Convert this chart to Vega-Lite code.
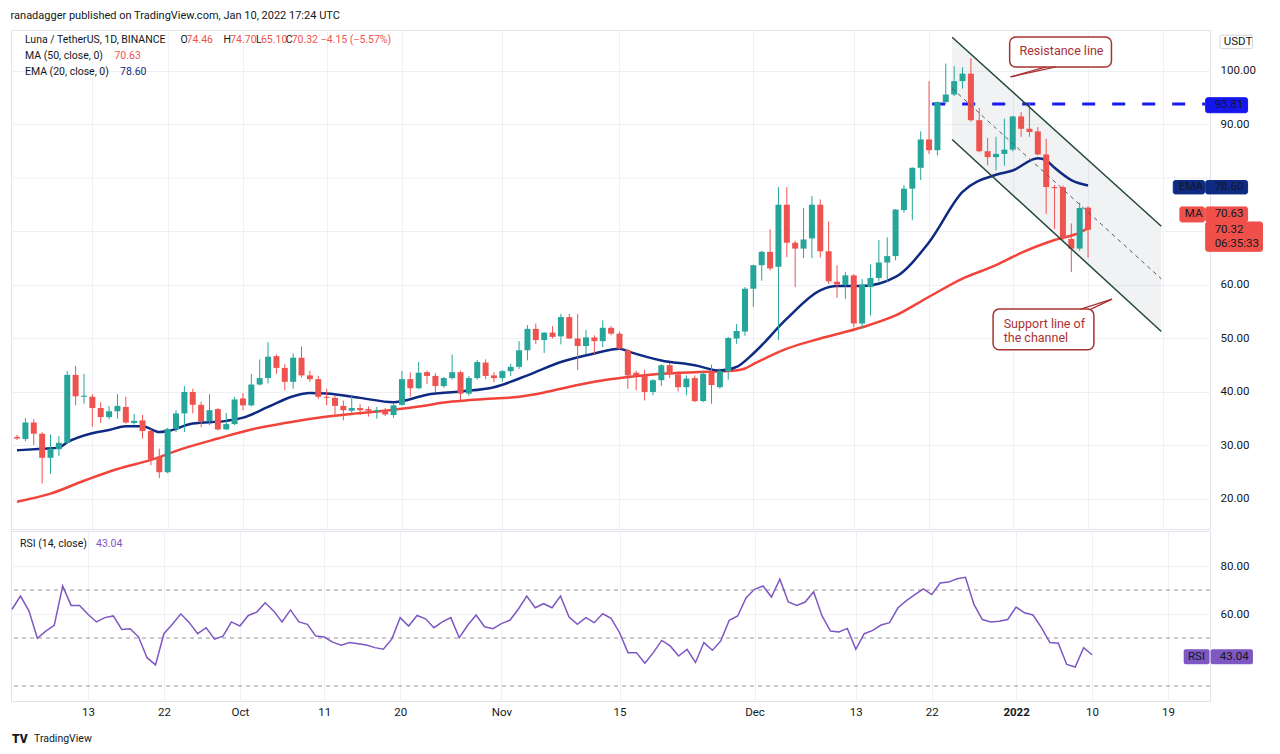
{
"$schema":"https://vega.github.io/schema/vega-lite/v6.json",
"background":"white",
"padding":{"left":8,"top":9,"right":0,"bottom":0},
"spacing":0,
"title":{"text":"ranadagger published on TradingView.com, Jan 10, 2022 17:24 UTC","anchor":"start","fontSize":11,"fontWeight":"normal","font":"Roboto","color":"#131722","offset":9,"dx":2},
"config":{"font":"Roboto","view":{"stroke":"#e0e3eb"},"axis":{"labelFont":"Roboto","labelFontSize":11.5,"labelColor":"#131722","gridColor":"#eef0f5","domain":false,"ticks":false,"title":null,"zindex":0}},
"datasets":{
"candles":[
{"d":"2021-09-04","o":31.6,"h":32.0,"l":31.0,"c":31.3},
{"d":"2021-09-05","o":31.2,"h":35.1,"l":30.8,"c":34.3},
{"d":"2021-09-06","o":34.3,"h":34.9,"l":30.1,"c":32.2},
{"d":"2021-09-07","o":32.2,"h":32.5,"l":22.9,"c":27.7},
{"d":"2021-09-08","o":27.7,"h":32.0,"l":24.7,"c":29.4},
{"d":"2021-09-09","o":29.3,"h":31.8,"l":28.0,"c":30.5},
{"d":"2021-09-10","o":30.5,"h":43.9,"l":30.2,"c":43.2},
{"d":"2021-09-11","o":43.2,"h":44.9,"l":37.5,"c":39.2},
{"d":"2021-09-12","o":39.1,"h":43.4,"l":37.8,"c":39.3},
{"d":"2021-09-13","o":39.1,"h":39.6,"l":33.5,"c":37.0},
{"d":"2021-09-14","o":37.0,"h":38.1,"l":34.2,"c":35.3},
{"d":"2021-09-15","o":35.3,"h":37.4,"l":34.9,"c":36.4},
{"d":"2021-09-16","o":36.4,"h":39.6,"l":35.0,"c":37.4},
{"d":"2021-09-17","o":37.2,"h":39.1,"l":34.1,"c":34.3},
{"d":"2021-09-18","o":34.2,"h":35.9,"l":33.9,"c":34.6},
{"d":"2021-09-19","o":34.7,"h":35.7,"l":31.3,"c":32.7},
{"d":"2021-09-20","o":32.7,"h":33.1,"l":26.3,"c":27.4},
{"d":"2021-09-21","o":27.9,"h":29.4,"l":23.9,"c":25.0},
{"d":"2021-09-22","o":25.0,"h":33.3,"l":24.8,"c":33.1},
{"d":"2021-09-23","o":33.1,"h":36.6,"l":32.5,"c":36.0},
{"d":"2021-09-24","o":36.0,"h":41.1,"l":32.5,"c":40.0},
{"d":"2021-09-25","o":40.0,"h":40.6,"l":36.0,"c":37.6},
{"d":"2021-09-26","o":37.6,"h":38.2,"l":33.4,"c":34.5},
{"d":"2021-09-27","o":34.5,"h":39.6,"l":33.8,"c":36.6},
{"d":"2021-09-28","o":36.8,"h":37.0,"l":32.8,"c":33.0},
{"d":"2021-09-29","o":33.0,"h":36.1,"l":32.9,"c":34.0},
{"d":"2021-09-30","o":34.0,"h":39.1,"l":33.8,"c":38.6},
{"d":"2021-10-01","o":38.8,"h":39.8,"l":36.6,"c":37.5},
{"d":"2021-10-02","o":37.5,"h":43.4,"l":37.3,"c":41.4},
{"d":"2021-10-03","o":41.4,"h":46.1,"l":41.2,"c":42.6},
{"d":"2021-10-04","o":42.6,"h":49.3,"l":41.6,"c":46.6},
{"d":"2021-10-05","o":46.7,"h":47.0,"l":43.4,"c":44.5},
{"d":"2021-10-06","o":44.5,"h":45.2,"l":40.3,"c":41.9},
{"d":"2021-10-07","o":41.9,"h":47.2,"l":40.6,"c":46.4},
{"d":"2021-10-08","o":46.4,"h":48.5,"l":42.7,"c":43.1},
{"d":"2021-10-09","o":43.1,"h":44.0,"l":41.9,"c":42.4},
{"d":"2021-10-10","o":42.4,"h":43.0,"l":38.7,"c":39.1},
{"d":"2021-10-11","o":39.1,"h":40.6,"l":37.5,"c":38.9},
{"d":"2021-10-12","o":38.9,"h":39.4,"l":35.3,"c":37.4},
{"d":"2021-10-13","o":37.4,"h":38.4,"l":34.7,"c":36.6},
{"d":"2021-10-14","o":36.5,"h":39.5,"l":36.0,"c":37.0},
{"d":"2021-10-15","o":37.0,"h":37.7,"l":35.7,"c":36.6},
{"d":"2021-10-16","o":36.8,"h":37.3,"l":35.4,"c":36.5},
{"d":"2021-10-17","o":36.4,"h":37.2,"l":35.0,"c":36.6},
{"d":"2021-10-18","o":36.4,"h":37.0,"l":35.5,"c":35.8},
{"d":"2021-10-19","o":35.7,"h":37.9,"l":35.2,"c":37.5},
{"d":"2021-10-20","o":37.6,"h":43.9,"l":37.4,"c":42.4},
{"d":"2021-10-21","o":42.4,"h":43.7,"l":39.1,"c":40.7},
{"d":"2021-10-22","o":40.7,"h":45.6,"l":40.5,"c":43.6},
{"d":"2021-10-23","o":43.7,"h":44.0,"l":41.5,"c":43.0},
{"d":"2021-10-24","o":43.0,"h":43.5,"l":40.0,"c":41.1},
{"d":"2021-10-25","o":41.1,"h":42.8,"l":40.8,"c":42.6},
{"d":"2021-10-26","o":42.6,"h":47.0,"l":42.3,"c":43.7},
{"d":"2021-10-27","o":43.7,"h":44.0,"l":38.3,"c":39.7},
{"d":"2021-10-28","o":39.7,"h":43.0,"l":39.3,"c":42.6},
{"d":"2021-10-29","o":42.6,"h":46.0,"l":42.3,"c":45.6},
{"d":"2021-10-30","o":45.5,"h":46.1,"l":42.4,"c":43.0},
{"d":"2021-10-31","o":43.1,"h":43.7,"l":41.8,"c":42.6},
{"d":"2021-11-01","o":42.6,"h":44.1,"l":41.9,"c":43.9},
{"d":"2021-11-02","o":43.9,"h":45.3,"l":43.0,"c":44.7},
{"d":"2021-11-03","o":44.7,"h":49.5,"l":44.3,"c":47.8},
{"d":"2021-11-04","o":47.8,"h":52.5,"l":45.9,"c":51.8},
{"d":"2021-11-05","o":51.8,"h":52.8,"l":49.0,"c":49.7},
{"d":"2021-11-06","o":49.7,"h":51.2,"l":47.3,"c":51.1},
{"d":"2021-11-07","o":51.1,"h":52.3,"l":50.0,"c":50.3},
{"d":"2021-11-08","o":50.4,"h":54.6,"l":48.9,"c":54.0},
{"d":"2021-11-09","o":54.0,"h":54.6,"l":49.9,"c":50.0},
{"d":"2021-11-10","o":50.0,"h":54.6,"l":44.1,"c":48.6},
{"d":"2021-11-11","o":48.6,"h":51.6,"l":47.1,"c":50.2},
{"d":"2021-11-12","o":50.2,"h":50.6,"l":47.1,"c":49.5},
{"d":"2021-11-13","o":49.5,"h":53.4,"l":48.4,"c":52.0},
{"d":"2021-11-14","o":52.0,"h":52.3,"l":50.6,"c":50.9},
{"d":"2021-11-15","o":50.9,"h":51.3,"l":47.9,"c":48.1},
{"d":"2021-11-16","o":47.8,"h":48.1,"l":40.6,"c":43.1},
{"d":"2021-11-17","o":43.6,"h":44.0,"l":40.3,"c":43.1},
{"d":"2021-11-18","o":43.1,"h":44.2,"l":38.4,"c":40.0},
{"d":"2021-11-19","o":40.0,"h":42.4,"l":39.4,"c":42.2},
{"d":"2021-11-20","o":42.2,"h":45.2,"l":41.1,"c":45.0},
{"d":"2021-11-21","o":45.0,"h":45.4,"l":42.6,"c":43.3},
{"d":"2021-11-22","o":43.3,"h":43.9,"l":40.1,"c":40.9},
{"d":"2021-11-23","o":40.9,"h":43.1,"l":39.4,"c":42.5},
{"d":"2021-11-24","o":42.6,"h":43.1,"l":38.1,"c":38.3},
{"d":"2021-11-25","o":38.3,"h":44.0,"l":38.1,"c":43.4},
{"d":"2021-11-26","o":43.9,"h":45.1,"l":37.8,"c":41.3},
{"d":"2021-11-27","o":40.9,"h":44.4,"l":40.6,"c":43.9},
{"d":"2021-11-28","o":43.9,"h":50.3,"l":42.3,"c":50.1},
{"d":"2021-11-29","o":50.0,"h":52.7,"l":49.0,"c":51.4},
{"d":"2021-11-30","o":51.3,"h":59.6,"l":50.5,"c":59.3},
{"d":"2021-12-01","o":59.3,"h":63.8,"l":55.9,"c":63.7},
{"d":"2021-12-02","o":63.7,"h":66.4,"l":60.8,"c":66.2},
{"d":"2021-12-03","o":66.2,"h":70.4,"l":62.7,"c":63.1},
{"d":"2021-12-04","o":63.4,"h":78.3,"l":49.7,"c":75.0},
{"d":"2021-12-05","o":75.0,"h":78.3,"l":65.2,"c":67.9},
{"d":"2021-12-06","o":67.9,"h":68.3,"l":59.6,"c":66.8},
{"d":"2021-12-07","o":66.8,"h":74.4,"l":65.0,"c":68.5},
{"d":"2021-12-08","o":68.7,"h":76.6,"l":65.0,"c":75.0},
{"d":"2021-12-09","o":75.0,"h":76.0,"l":65.1,"c":66.3},
{"d":"2021-12-10","o":66.3,"h":71.9,"l":60.2,"c":60.7},
{"d":"2021-12-11","o":60.6,"h":63.7,"l":57.6,"c":60.1},
{"d":"2021-12-12","o":60.0,"h":62.4,"l":57.4,"c":61.8},
{"d":"2021-12-13","o":61.8,"h":62.0,"l":52.1,"c":52.8},
{"d":"2021-12-14","o":52.8,"h":61.1,"l":51.8,"c":60.1},
{"d":"2021-12-15","o":59.6,"h":63.8,"l":54.3,"c":61.3},
{"d":"2021-12-16","o":61.3,"h":68.4,"l":60.7,"c":64.2},
{"d":"2021-12-17","o":64.2,"h":68.9,"l":60.6,"c":65.4},
{"d":"2021-12-18","o":65.4,"h":74.2,"l":64.6,"c":74.1},
{"d":"2021-12-19","o":74.0,"h":78.7,"l":73.5,"c":78.0},
{"d":"2021-12-20","o":78.0,"h":82.0,"l":72.1,"c":81.9},
{"d":"2021-12-21","o":81.9,"h":88.7,"l":79.6,"c":87.2},
{"d":"2021-12-22","o":87.2,"h":98.1,"l":84.5,"c":85.2},
{"d":"2021-12-23","o":85.2,"h":94.3,"l":84.2,"c":94.2},
{"d":"2021-12-24","o":94.2,"h":101.4,"l":93.9,"c":95.6},
{"d":"2021-12-25","o":95.6,"h":100.9,"l":95.3,"c":98.1},
{"d":"2021-12-26","o":98.1,"h":100.7,"l":96.7,"c":99.5},
{"d":"2021-12-27","o":99.5,"h":102.4,"l":90.5,"c":90.8},
{"d":"2021-12-28","o":90.8,"h":93.1,"l":84.8,"c":85.0},
{"d":"2021-12-29","o":85.0,"h":87.5,"l":82.4,"c":83.9},
{"d":"2021-12-30","o":83.9,"h":87.7,"l":81.4,"c":84.5},
{"d":"2021-12-31","o":84.5,"h":91.1,"l":82.3,"c":85.3},
{"d":"2022-01-01","o":85.3,"h":91.6,"l":85.0,"c":91.5},
{"d":"2022-01-02","o":91.5,"h":92.3,"l":87.7,"c":89.2},
{"d":"2022-01-03","o":89.2,"h":94.2,"l":87.7,"c":88.6},
{"d":"2022-01-04","o":88.7,"h":89.5,"l":84.2,"c":84.4},
{"d":"2022-01-05","o":84.4,"h":87.3,"l":73.3,"c":78.3},
{"d":"2022-01-06","o":78.3,"h":78.7,"l":70.5,"c":78.1},
{"d":"2022-01-07","o":78.3,"h":78.6,"l":68.3,"c":68.7},
{"d":"2022-01-08","o":68.6,"h":71.5,"l":62.4,"c":66.8},
{"d":"2022-01-09","o":66.8,"h":75.4,"l":66.4,"c":74.4},
{"d":"2022-01-10","o":74.46,"h":74.70,"l":65.10,"c":70.32}
],
"ma":[
{"d":"2021-09-04","v":19.5},{"d":"2021-09-08","v":21.0},{"d":"2021-09-12","v":23.4},{"d":"2021-09-16","v":25.6},{"d":"2021-09-20","v":27.3},{"d":"2021-09-24","v":29.5},{"d":"2021-09-28","v":31.3},{"d":"2021-10-02","v":33.0},{"d":"2021-10-06","v":34.2},{"d":"2021-10-10","v":35.2},{"d":"2021-10-14","v":35.9},{"d":"2021-10-18","v":36.5},{"d":"2021-10-22","v":37.3},{"d":"2021-10-26","v":38.2},{"d":"2021-10-30","v":38.7},{"d":"2021-11-03","v":39.1},{"d":"2021-11-06","v":39.9},{"d":"2021-11-08","v":40.6},{"d":"2021-11-12","v":41.9},{"d":"2021-11-16","v":42.8},{"d":"2021-11-20","v":43.4},{"d":"2021-11-24","v":43.7},{"d":"2021-11-28","v":43.9},{"d":"2021-11-30","v":44.4},{"d":"2021-12-01","v":45.2},{"d":"2021-12-05","v":48.1},{"d":"2021-12-09","v":50.0},{"d":"2021-12-14","v":52.1},{"d":"2021-12-18","v":54.3},{"d":"2021-12-22","v":57.8},{"d":"2021-12-26","v":61.2},{"d":"2021-12-30","v":63.7},{"d":"2022-01-02","v":66.0},{"d":"2022-01-06","v":68.4},{"d":"2022-01-09","v":69.8},{"d":"2022-01-10","v":70.63}
],
"ema":[
{"d":"2021-09-04","v":29.1},{"d":"2021-09-07","v":29.4},{"d":"2021-09-09","v":29.6},{"d":"2021-09-10","v":30.6},{"d":"2021-09-13","v":32.3},{"d":"2021-09-15","v":32.9},{"d":"2021-09-17","v":33.6},{"d":"2021-09-19","v":33.6},{"d":"2021-09-21","v":32.5},{"d":"2021-09-22","v":32.7},{"d":"2021-09-25","v":34.1},{"d":"2021-09-29","v":34.6},{"d":"2021-10-01","v":35.2},{"d":"2021-10-04","v":37.2},{"d":"2021-10-07","v":39.2},{"d":"2021-10-09","v":39.8},{"d":"2021-10-11","v":39.7},{"d":"2021-10-15","v":38.9},{"d":"2021-10-19","v":38.1},{"d":"2021-10-20","v":38.3},{"d":"2021-10-23","v":39.5},{"d":"2021-10-27","v":40.1},{"d":"2021-10-31","v":40.9},{"d":"2021-11-04","v":43.1},{"d":"2021-11-08","v":45.6},{"d":"2021-11-12","v":47.2},{"d":"2021-11-15","v":48.1},{"d":"2021-11-16","v":47.6},{"d":"2021-11-20","v":45.9},{"d":"2021-11-24","v":45.0},{"d":"2021-11-27","v":44.0},{"d":"2021-11-29","v":44.7},{"d":"2021-12-01","v":47.2},{"d":"2021-12-05","v":53.7},{"d":"2021-12-09","v":59.0},{"d":"2021-12-11","v":59.8},{"d":"2021-12-14","v":59.8},{"d":"2021-12-18","v":61.5},{"d":"2021-12-22","v":68.0},{"d":"2021-12-26","v":77.4},{"d":"2021-12-30","v":80.6},{"d":"2022-01-01","v":81.4},{"d":"2022-01-04","v":83.7},{"d":"2022-01-05","v":83.3},{"d":"2022-01-06","v":81.9},{"d":"2022-01-08","v":79.6},{"d":"2022-01-10","v":78.6}
],
"rsi":[
{"d":"2021-09-04","v":62.0},{"d":"2021-09-05","v":67.5},{"d":"2021-09-06","v":61.3},{"d":"2021-09-07","v":49.9},{"d":"2021-09-08","v":52.9},{"d":"2021-09-09","v":55.3},{"d":"2021-09-10","v":71.7},{"d":"2021-09-11","v":63.6},{"d":"2021-09-12","v":63.6},{"d":"2021-09-13","v":59.9},{"d":"2021-09-14","v":56.7},{"d":"2021-09-15","v":58.5},{"d":"2021-09-16","v":59.2},{"d":"2021-09-17","v":53.6},{"d":"2021-09-18","v":53.9},{"d":"2021-09-19","v":50.4},{"d":"2021-09-20","v":41.8},{"d":"2021-09-21","v":38.8},{"d":"2021-09-22","v":51.8},{"d":"2021-09-23","v":55.7},{"d":"2021-09-24","v":60.1},{"d":"2021-09-25","v":56.4},{"d":"2021-09-26","v":51.8},{"d":"2021-09-27","v":54.3},{"d":"2021-09-28","v":49.5},{"d":"2021-09-29","v":50.8},{"d":"2021-09-30","v":56.7},
{"d":"2021-10-01","v":55.0},{"d":"2021-10-02","v":59.4},{"d":"2021-10-03","v":60.8},{"d":"2021-10-04","v":64.7},{"d":"2021-10-05","v":61.3},{"d":"2021-10-06","v":56.7},{"d":"2021-10-07","v":61.7},{"d":"2021-10-08","v":56.7},{"d":"2021-10-09","v":55.7},{"d":"2021-10-10","v":50.8},{"d":"2021-10-11","v":50.4},{"d":"2021-10-12","v":48.3},{"d":"2021-10-13","v":47.0},{"d":"2021-10-14","v":48.1},{"d":"2021-10-15","v":47.6},{"d":"2021-10-16","v":47.1},{"d":"2021-10-17","v":46.0},{"d":"2021-10-18","v":45.3},{"d":"2021-10-19","v":49.5},{"d":"2021-10-20","v":58.5},{"d":"2021-10-21","v":55.0},{"d":"2021-10-22","v":59.4},{"d":"2021-10-23","v":58.0},{"d":"2021-10-24","v":54.3},{"d":"2021-10-25","v":56.7},{"d":"2021-10-26","v":58.5},{"d":"2021-10-27","v":50.1},{"d":"2021-10-28","v":55.3},{"d":"2021-10-29","v":59.6},{"d":"2021-10-30","v":54.7},{"d":"2021-10-31","v":53.9},
{"d":"2021-11-01","v":56.0},{"d":"2021-11-02","v":57.4},{"d":"2021-11-03","v":62.0},{"d":"2021-11-04","v":67.5},{"d":"2021-11-05","v":62.6},{"d":"2021-11-06","v":64.3},{"d":"2021-11-07","v":62.6},{"d":"2021-11-08","v":67.5},{"d":"2021-11-09","v":58.8},{"d":"2021-11-10","v":55.7},{"d":"2021-11-11","v":58.5},{"d":"2021-11-12","v":56.4},{"d":"2021-11-13","v":60.1},{"d":"2021-11-14","v":58.2},{"d":"2021-11-15","v":52.2},{"d":"2021-11-16","v":43.9},{"d":"2021-11-17","v":43.9},{"d":"2021-11-18","v":39.5},{"d":"2021-11-19","v":43.9},{"d":"2021-11-20","v":49.0},{"d":"2021-11-21","v":46.7},{"d":"2021-11-22","v":42.5},{"d":"2021-11-23","v":45.3},{"d":"2021-11-24","v":39.8},{"d":"2021-11-25","v":48.1},{"d":"2021-11-26","v":44.9},{"d":"2021-11-27","v":48.8},{"d":"2021-11-28","v":57.4},{"d":"2021-11-29","v":59.2},{"d":"2021-11-30","v":66.8},
{"d":"2021-12-01","v":70.3},{"d":"2021-12-02","v":71.7},{"d":"2021-12-03","v":67.1},{"d":"2021-12-04","v":74.5},{"d":"2021-12-05","v":65.0},{"d":"2021-12-06","v":63.6},{"d":"2021-12-07","v":65.0},{"d":"2021-12-08","v":69.3},{"d":"2021-12-09","v":59.2},{"d":"2021-12-10","v":52.9},{"d":"2021-12-11","v":52.5},{"d":"2021-12-12","v":54.0},{"d":"2021-12-13","v":45.3},{"d":"2021-12-14","v":51.8},{"d":"2021-12-15","v":53.2},{"d":"2021-12-16","v":55.4},{"d":"2021-12-17","v":56.4},{"d":"2021-12-18","v":62.6},{"d":"2021-12-19","v":65.6},{"d":"2021-12-20","v":68.1},{"d":"2021-12-21","v":70.5},{"d":"2021-12-22","v":68.1},{"d":"2021-12-23","v":72.9},{"d":"2021-12-24","v":73.3},{"d":"2021-12-25","v":74.7},{"d":"2021-12-26","v":75.3},{"d":"2021-12-27","v":64.0},{"d":"2021-12-28","v":57.7},{"d":"2021-12-29","v":56.7},{"d":"2021-12-30","v":57.0},{"d":"2021-12-31","v":57.7},
{"d":"2022-01-01","v":62.9},{"d":"2022-01-02","v":60.5},{"d":"2022-01-03","v":59.6},{"d":"2022-01-04","v":54.3},{"d":"2022-01-05","v":48.1},{"d":"2022-01-06","v":47.8},{"d":"2022-01-07","v":39.0},{"d":"2022-01-08","v":37.9},{"d":"2022-01-09","v":46.0},{"d":"2022-01-10","v":43.04}
],
"channel":[
{"d":"2021-12-24T18:14:00Z","top":106.3,"bot":87.2,"mid":96.75},
{"d":"2022-01-18T18:14:00Z","top":70.97,"bot":51.3,"mid":61.14}
],
"level":[
{"d":"2021-12-22T09:00:00Z","v":93.81},
{"d":"2022-01-23T23:30:00Z","v":93.81}
],
"boxes":[
{"x1":"2021-12-31T15:10:00Z","x2":"2022-01-12T19:10:00Z","y1":100.75,"y2":106.37},
{"x1":"2021-12-29T15:40:00Z","x2":"2022-01-10T16:50:00Z","y1":47.89,"y2":55.49}
],
"tails":[
{"xa":"2021-12-31T18:00:00Z","ya":98.9,"xb":"2022-01-04T23:30:00Z","yb":100.75},
{"xa":"2021-12-31T18:00:00Z","ya":98.9,"xb":"2022-01-06T04:00:00Z","yb":100.75},
{"xa":"2022-01-12T21:00:00Z","ya":57.36,"xb":"2022-01-09T03:10:00Z","yb":55.49},
{"xa":"2022-01-12T21:00:00Z","ya":57.36,"xb":"2022-01-10T08:25:00Z","yb":55.49}
],
"notes":[
{"d":"2022-01-01T19:30:00Z","p":103.7,"t":"Resistance line"},
{"d":"2021-12-30T22:00:00Z","p":52.8,"t":"Support line of"},
{"d":"2021-12-30T22:00:00Z","p":50.0,"t":"the channel"}
],
"legendTop":[
{"d":"2021-09-04T22:35:00Z","p":105.8,"t":"Luna / TetherUS, 1D, BINANCE","k":"dark"},
{"d":"2021-09-23T13:10:00Z","p":105.8,"t":"O","k":"dark"},
{"d":"2021-09-24T06:15:00Z","p":105.8,"t":"74.46","k":"red"},
{"d":"2021-09-28T16:20:00Z","p":105.8,"t":"H","k":"dark"},
{"d":"2021-09-29T11:20:00Z","p":105.8,"t":"74.70","k":"red"},
{"d":"2021-10-02T13:25:00Z","p":105.8,"t":"L","k":"dark"},
{"d":"2021-10-03T03:35:00Z","p":105.8,"t":"65.10","k":"red"},
{"d":"2021-10-06T02:40:00Z","p":105.8,"t":"C","k":"dark"},
{"d":"2021-10-06T19:40:00Z","p":105.8,"t":"70.32","k":"red"},
{"d":"2021-10-10T07:00:00Z","p":105.8,"t":"−4.15 (−5.57%)","k":"red"},
{"d":"2021-09-04T22:35:00Z","p":102.8,"t":"MA (50, close, 0)","k":"dark"},
{"d":"2021-09-15T15:25:00Z","p":102.8,"t":"70.63","k":"red"},
{"d":"2021-09-04T22:35:00Z","p":99.8,"t":"EMA (20, close, 0)","k":"dark"},
{"d":"2021-09-16T07:40:00Z","p":99.8,"t":"78.60","k":"navy"}
],
"badgesTop":[
{"x1":"2022-01-25T18:15:00Z","x2":"2022-01-29T16:05:00Z","lo":104.18,"hi":106.69,"k":"plain"},
{"x1":"2022-01-24T01:25:00Z","x2":"2022-01-29T01:40:00Z","lo":92.2,"hi":95.0,"k":"blue"},
{"x1":"2022-01-20T04:30:00Z","x2":"2022-01-23T22:20:00Z","lo":77.02,"hi":79.53,"k":"navy"},
{"x1":"2022-01-24T01:25:00Z","x2":"2022-01-29T01:40:00Z","lo":77.02,"hi":79.53,"k":"navy"},
{"x1":"2022-01-20T23:30:00Z","x2":"2022-01-23T22:20:00Z","lo":71.78,"hi":74.59,"k":"red"},
{"x1":"2022-01-24T01:25:00Z","x2":"2022-01-29T01:40:00Z","lo":71.78,"hi":74.59,"k":"red"},
{"x1":"2022-01-24T01:25:00Z","x2":"2022-01-30T20:25:00Z","lo":66.29,"hi":71.78,"k":"red"}
],
"badgeTextTop":[
{"d":"2022-01-26T05:30:00Z","p":105.45,"t":"USDT","k":"dark"},
{"d":"2022-01-25T03:10:00Z","p":93.62,"t":"93.81","k":"light"},
{"d":"2022-01-20T20:40:00Z","p":78.28,"t":"EMA","k":"light"},
{"d":"2022-01-25T03:10:00Z","p":78.28,"t":"78.60","k":"light"},
{"d":"2022-01-21T13:40:00Z","p":73.18,"t":"MA","k":"light"},
{"d":"2022-01-25T03:10:00Z","p":73.18,"t":"70.63","k":"light"},
{"d":"2022-01-25T03:10:00Z","p":70.2,"t":"70.32","k":"light"},
{"d":"2022-01-25T03:10:00Z","p":67.7,"t":"06:35:33","k":"light"}
],
"legendRsi":[
{"d":"2021-09-04T22:35:00Z","p":89.17,"t":"RSI (14, close)","k":"dark"},
{"d":"2021-09-13T22:45:00Z","p":89.17,"t":"43.04","k":"purple"},
{"d":"2021-09-06T14:25:00Z","p":7.9,"t":"TradingView","k":"dark"}
],
"badgesRsi":[
{"x1":"2022-01-20T20:40:00Z","x2":"2022-01-23T22:20:00Z","lo":39.04,"hi":45.29,"k":"purple"},
{"x1":"2022-01-24T01:25:00Z","x2":"2022-01-29T01:40:00Z","lo":39.04,"hi":45.29,"k":"purple"}
],
"badgeTextRsi":[
{"d":"2022-01-21T08:50:00Z","p":42.17,"t":"RSI","k":"light"},
{"d":"2022-01-25T03:10:00Z","p":42.17,"t":"43.04","k":"light"}
]
},
"vconcat":[
{
"width":1199,"height":499,
"layer":[
{"data":{"name":"channel"},"mark":{"type":"area","color":"#787b86","opacity":0.1},
 "encoding":{
  "x":{"field":"d","type":"temporal","scale":{"type":"utc","domain":[{"year":2021,"month":9,"date":3,"hours":21,"utc":true},{"year":2022,"month":1,"date":23,"hours":23,"minutes":30,"utc":true}]},
       "axis":{"values":[{"year":2021,"month":9,"date":13,"utc":true},{"year":2021,"month":9,"date":22,"utc":true},{"year":2021,"month":10,"date":1,"utc":true},{"year":2021,"month":10,"date":11,"utc":true},{"year":2021,"month":10,"date":20,"utc":true},{"year":2021,"month":11,"date":1,"utc":true},{"year":2021,"month":11,"date":15,"utc":true},{"year":2021,"month":12,"date":1,"utc":true},{"year":2021,"month":12,"date":13,"utc":true},{"year":2021,"month":12,"date":22,"utc":true},{"year":2022,"month":1,"date":1,"utc":true},{"year":2022,"month":1,"date":10,"utc":true},{"year":2022,"month":1,"date":19,"utc":true}],"labels":false,"grid":true,"labelPadding":0,"zindex":0}},
  "y":{"field":"top","type":"quantitative","scale":{"domain":[14.39,107.66],"nice":false,"zero":false},"axis":{"orient":"right","values":[20,30,40,50,60,90,100],"format":".2f","labelPadding":10,"grid":true,"zindex":0,"gridColor":"#eef0f5"}},
  "y2":{"field":"bot"}}},
{"data":{"values":[{"v":70},{"v":80}]},"mark":{"type":"rule","color":"#eef0f5","strokeWidth":1},"encoding":{"y":{"field":"v","type":"quantitative"}}},
{"mark":{"type":"rule","color":"#ef5350","strokeDash":[1,3],"strokeWidth":1,"opacity":0.8},"encoding":{"y":{"datum":70.32,"type":"quantitative"}}},
{"data":{"name":"level"},"mark":{"type":"line","color":"#1a1aee","strokeWidth":3,"strokeDash":[13,17]},"encoding":{"x":{"field":"d","type":"temporal"},"y":{"field":"v","type":"quantitative"}}},
{"data":{"name":"ma"},"mark":{"type":"line","color":"#f2433a","strokeWidth":2.5,"interpolate":"monotone"},"encoding":{"x":{"field":"d","type":"temporal"},"y":{"field":"v","type":"quantitative"}}},
{"data":{"name":"ema"},"mark":{"type":"line","color":"#0f2a82","strokeWidth":2.5,"interpolate":"monotone"},"encoding":{"x":{"field":"d","type":"temporal"},"y":{"field":"v","type":"quantitative"}}},
{"data":{"name":"candles"},"mark":{"type":"rule","strokeWidth":1},"encoding":{"x":{"field":"d","type":"temporal"},"y":{"field":"l","type":"quantitative"},"y2":{"field":"h"},"color":{"condition":{"test":"datum.c >= datum.o","value":"#26a69a"},"value":"#ef5350"}}},
{"data":{"name":"candles"},"mark":{"type":"bar","width":6},"encoding":{"x":{"field":"d","type":"temporal"},"y":{"field":"o","type":"quantitative"},"y2":{"field":"c"},"color":{"condition":{"test":"datum.c >= datum.o","value":"#26a69a"},"value":"#ef5350"}}},
{"data":{"name":"channel"},"mark":{"type":"line","color":"#24473a","strokeWidth":1.5},"encoding":{"x":{"field":"d","type":"temporal"},"y":{"field":"top","type":"quantitative"}}},
{"data":{"name":"channel"},"mark":{"type":"line","color":"#24473a","strokeWidth":1.5},"encoding":{"x":{"field":"d","type":"temporal"},"y":{"field":"bot","type":"quantitative"}}},
{"data":{"name":"channel"},"mark":{"type":"line","color":"#555a66","strokeWidth":1,"strokeDash":[4,4]},"encoding":{"x":{"field":"d","type":"temporal"},"y":{"field":"mid","type":"quantitative"}}},
{"data":{"name":"boxes"},"mark":{"type":"rect","fill":"white","stroke":"#a83232","strokeWidth":1.5,"cornerRadius":6},"encoding":{"x":{"field":"x1","type":"temporal"},"x2":{"field":"x2"},"y":{"field":"y1","type":"quantitative"},"y2":{"field":"y2"}}},
{"data":{"name":"tails"},"mark":{"type":"rule","color":"#a83232","strokeWidth":1.3},"encoding":{"x":{"field":"xa","type":"temporal"},"x2":{"field":"xb"},"y":{"field":"ya","type":"quantitative"},"y2":{"field":"yb"}}},
{"data":{"name":"notes"},"mark":{"type":"text","align":"left","baseline":"middle","fontSize":12.5,"color":"#a83232","font":"Roboto"},"encoding":{"x":{"field":"d","type":"temporal"},"y":{"field":"p","type":"quantitative"},"text":{"field":"t"}}},
{"data":{"name":"legendTop"},"mark":{"type":"text","align":"left","baseline":"middle","fontSize":10.5,"font":"Roboto"},"encoding":{"x":{"field":"d","type":"temporal"},"y":{"field":"p","type":"quantitative"},"text":{"field":"t"},"color":{"field":"k","type":"nominal","legend":null,"scale":{"domain":["dark","red","navy","purple"],"range":["#131722","#ef5350","#0f2a82","#7e57c2"]}}}},
{"data":{"name":"badgesTop"},"mark":{"type":"rect","strokeWidth":1,"cornerRadius":2},"encoding":{"x":{"field":"x1","type":"temporal"},"x2":{"field":"x2"},"y":{"field":"lo","type":"quantitative"},"y2":{"field":"hi"},"fill":{"field":"k","type":"nominal","legend":null,"scale":{"domain":["plain","blue","navy","red","purple"],"range":["#ffffff","#1515ee","#0f2a82","#f0504a","#7e57c2"]}},"stroke":{"field":"k","type":"nominal","legend":null,"scale":{"domain":["plain","blue","navy","red","purple"],"range":["#d1d4dc","#1515ee","#0f2a82","#f0504a","#7e57c2"]}}}},
{"data":{"name":"badgeTextTop"},"mark":{"type":"text","align":"left","baseline":"middle","fontSize":11.5,"font":"Roboto"},"encoding":{"x":{"field":"d","type":"temporal"},"y":{"field":"p","type":"quantitative"},"text":{"field":"t"},"color":{"field":"k","type":"nominal","legend":null,"scale":{"domain":["light","dark"],"range":["#ffffff","#131722"]}}}}
]
},
{
"width":1199,"height":170,
"layer":[
{"mark":{"type":"rect","color":"#7e57c2","opacity":0.08},"encoding":{"y":{"datum":70,"type":"quantitative","scale":{"domain":[23.75,94.6],"nice":false,"zero":false},"axis":{"orient":"right","values":[60,80],"format":".2f","labelPadding":10,"grid":true,"zindex":0}},"y2":{"datum":30}}},
{"data":{"values":[{"v":70},{"v":50},{"v":30}]},"mark":{"type":"rule","color":"#787b86","strokeDash":[4,4],"strokeWidth":1,"opacity":0.8},"encoding":{"y":{"field":"v","type":"quantitative"}}},
{"data":{"name":"rsi"},"mark":{"type":"line","color":"#7e57c2","strokeWidth":1.5},
 "encoding":{
  "x":{"field":"d","type":"temporal","scale":{"type":"utc","domain":[{"year":2021,"month":9,"date":3,"hours":21,"utc":true},{"year":2022,"month":1,"date":23,"hours":23,"minutes":30,"utc":true}]},
       "axis":{"values":[{"year":2021,"month":9,"date":13,"utc":true},{"year":2021,"month":9,"date":22,"utc":true},{"year":2021,"month":10,"date":1,"utc":true},{"year":2021,"month":10,"date":11,"utc":true},{"year":2021,"month":10,"date":20,"utc":true},{"year":2021,"month":11,"date":1,"utc":true},{"year":2021,"month":11,"date":15,"utc":true},{"year":2021,"month":12,"date":1,"utc":true},{"year":2021,"month":12,"date":13,"utc":true},{"year":2021,"month":12,"date":22,"utc":true},{"year":2022,"month":1,"date":1,"utc":true},{"year":2022,"month":1,"date":10,"utc":true},{"year":2022,"month":1,"date":19,"utc":true}],"grid":true,"zindex":0,"labelPadding":5,"labelExpr":"utcdate(datum.value) == 1 ? (utcmonth(datum.value) == 0 ? utcFormat(datum.value, '%Y') : utcFormat(datum.value, '%b')) : utcFormat(datum.value, '%-d')","labelFontWeight":{"condition":{"test":"utcdate(datum.value) == 1 && utcmonth(datum.value) == 0","value":"bold"},"value":"normal"}}},
  "y":{"field":"v","type":"quantitative"}}},
{"data":{"name":"legendRsi"},"mark":{"type":"text","align":"left","baseline":"middle","fontSize":10.5,"font":"Roboto"},"encoding":{"x":{"field":"d","type":"temporal"},"y":{"field":"p","type":"quantitative"},"text":{"field":"t"},"color":{"field":"k","type":"nominal","legend":null,"scale":{"domain":["dark","red","navy","purple"],"range":["#131722","#ef5350","#0f2a82","#7e57c2"]}}}},
{"data":{"values":[{"d":"2021-09-04T00:00:00Z","p":7.9,"t":"TV"}]},"mark":{"type":"text","align":"left","baseline":"middle","fontSize":12,"fontWeight":900,"font":"Roboto","color":"#131722"},"encoding":{"x":{"field":"d","type":"temporal"},"y":{"field":"p","type":"quantitative"},"text":{"field":"t"}}},
{"data":{"name":"badgesRsi"},"mark":{"type":"rect","cornerRadius":2},"encoding":{"x":{"field":"x1","type":"temporal"},"x2":{"field":"x2"},"y":{"field":"lo","type":"quantitative"},"y2":{"field":"hi"},"fill":{"field":"k","type":"nominal","legend":null,"scale":{"domain":["plain","blue","navy","red","purple"],"range":["#ffffff","#1515ee","#0f2a82","#f0504a","#7e57c2"]}}}},
{"data":{"name":"badgeTextRsi"},"mark":{"type":"text","align":"left","baseline":"middle","fontSize":11.5,"font":"Roboto"},"encoding":{"x":{"field":"d","type":"temporal"},"y":{"field":"p","type":"quantitative"},"text":{"field":"t"},"color":{"field":"k","type":"nominal","legend":null,"scale":{"domain":["light","dark"],"range":["#ffffff","#131722"]}}}}
]
}
]
}
